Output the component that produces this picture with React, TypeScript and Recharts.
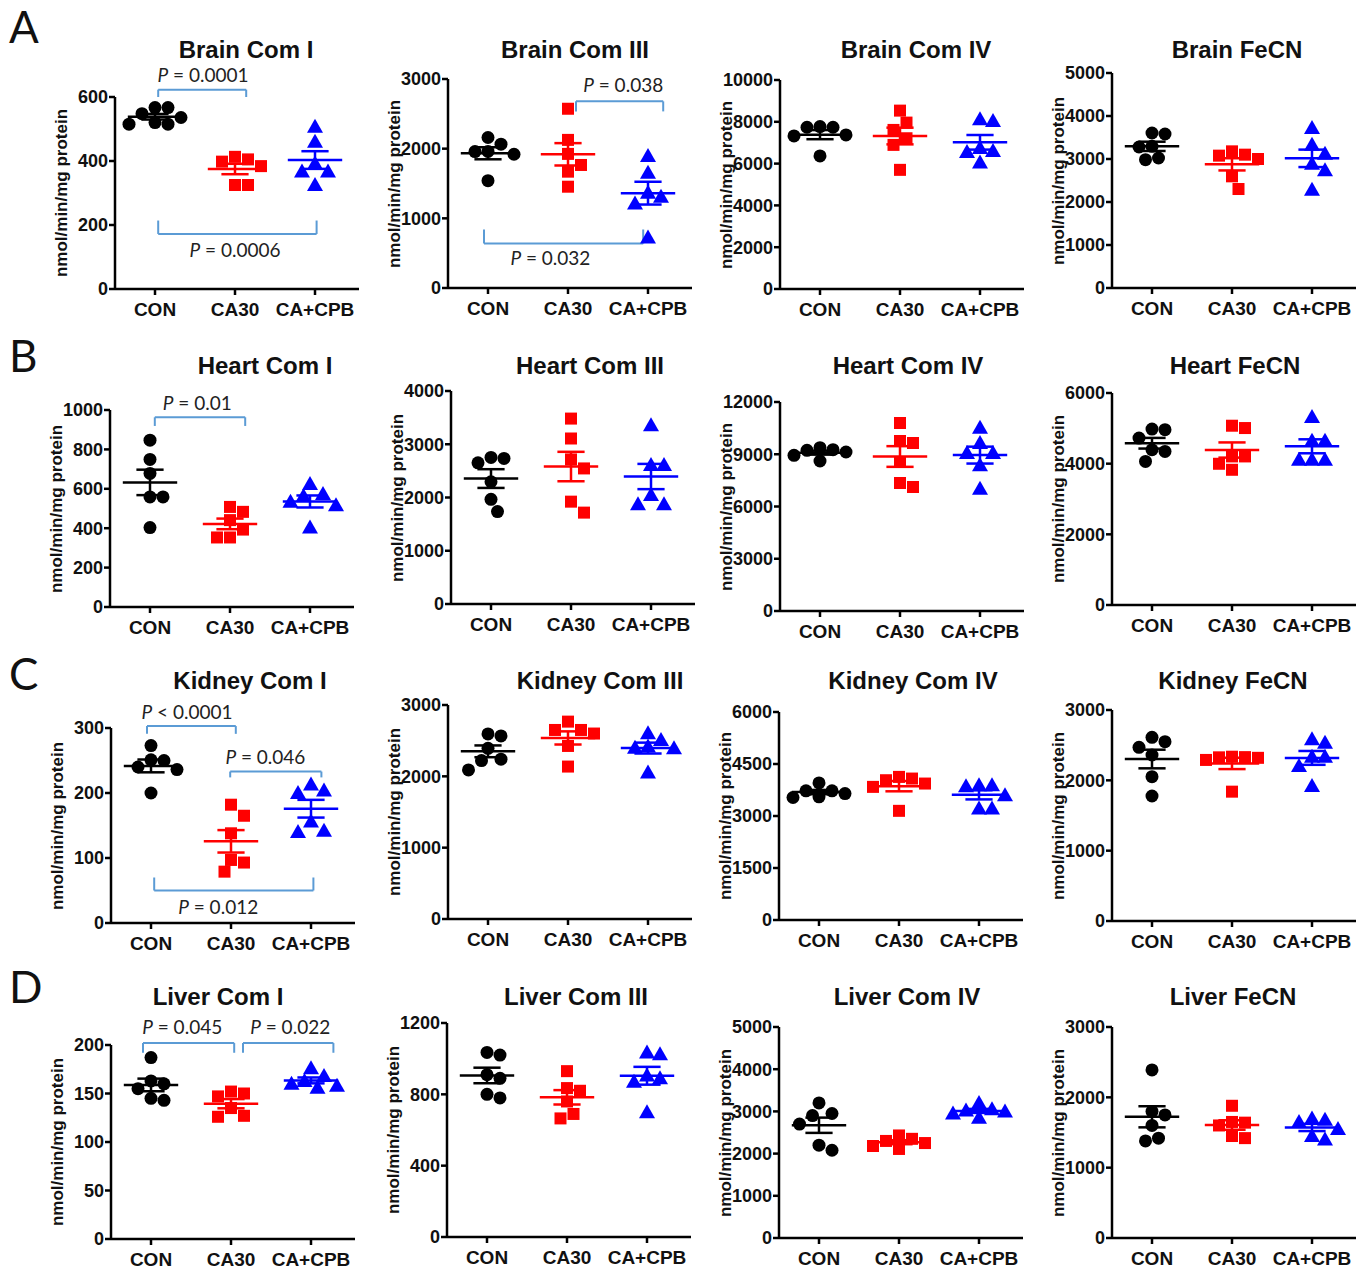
import React from "react";
import { ScatterChart, Scatter, XAxis, YAxis, ReferenceLine, ReferenceDot } from "recharts";

const groups = ["CON", "CA30", "CA+CPB"];
const groupColors = ["#000000", "#ff0000", "#0000ff"];

// values per group, in order CON, CA30, CA+CPB (nmol/min/mg protein)
const brainComI = [[548, 567, 515, 567, 515, 520, 536], [413, 398, 384, 405, 325, 325], [507, 460, 367, 392, 367, 325]];
const brainComIII = [[2064, 2160, 1958, 1960, 1920, 1541], [2573, 2126, 1925, 1766, 1670, 1454], [1896, 1656, 1310, 1368, 1214, 725]];
const brainComIV = [[7739, 7739, 7771, 7373, 7325, 6369], [8535, 7962, 7611, 7213, 6895, 5701], [8121, 8041, 6550, 6600, 6750, 6051]];
const brainFeCN = [[3605, 3581, 3295, 3279, 2984, 3023], [3178, 3078, 3000, 3101, 2597, 2302], [3721, 3333, 3124, 2891, 2736, 2287]];
const heartComI = [[847, 749, 678, 559, 559, 403], [483, 441, 508, 393, 353, 353], [624, 573, 563, 534, 517, 403]];
const heartComIII = [[2752, 2652, 2733, 2296, 1966, 1735], [3482, 3108, 2715, 2546, 1922, 1716], [3357, 2608, 2608, 2047, 1872, 1872]];
const heartComIV = [[9263, 9129, 8612, 8938, 9225, 9378], [10794, 9646, 9761, 8555, 7120, 7349], [10526, 9646, 9072, 9072, 8364, 7024]];
const heartFeCN = [[4961, 4980, 4725, 4394, 4347, 4063], [5074, 5008, 3997, 4205, 4205, 3827], [5320, 4650, 4650, 4110, 4110, 4110]];
const kidneyComI = [[273, 251, 250, 240, 236, 200], [182, 165, 138, 97, 93, 79], [204, 200, 213, 156, 140, 142]];
const kidneyComIII = [[2566, 2594, 2393, 2240, 2221, 2090], [2767, 2650, 2650, 2600, 2426, 2137], [2604, 2510, 2417, 2400, 2393, 2053]];
const kidneyComIV = [[3725, 3648, 3533, 3552, 3725, 3955], [4080, 4032, 3936, 4128, 3840, 3149], [3859, 3888, 3888, 3600, 3216, 3216]];
const kidneyFeCN = [[2611, 2550, 2469, 2360, 2052, 1777], [2327, 2330, 2320, 2336, 2290, 1839], [2536, 2583, 2336, 2336, 2204, 1919]];
const liverComI = [[187, 163, 160, 155, 145, 143], [152, 150, 147, 135, 127, 126], [176, 168, 163, 160, 158, 156]];
const liverComIII = [[1035, 1020, 910, 890, 800, 780], [930, 835, 820, 760, 690, 665], [1035, 1025, 905, 890, 870, 700]];
const liverComIV = [[3200, 2950, 2900, 2700, 2200, 2080], [2430, 2350, 2300, 2250, 2180, 2110], [3200, 3050, 3020, 3000, 2950, 2850]];
const liverFeCN = [[2390, 1800, 1750, 1600, 1420, 1380], [1880, 1650, 1640, 1600, 1450, 1420], [1700, 1680, 1650, 1550, 1450, 1400]];

// y-axis ticks
const brainComITicks = [0, 200, 400, 600];
const brainComIIITicks = [0, 1000, 2000, 3000];
const brainComIVTicks = [0, 2000, 4000, 6000, 8000, 10000];
const brainFeCNTicks = [0, 1000, 2000, 3000, 4000, 5000];
const heartComITicks = [0, 200, 400, 600, 800, 1000];
const heartComIIITicks = [0, 1000, 2000, 3000, 4000];
const heartComIVTicks = [0, 3000, 6000, 9000, 12000];
const heartFeCNTicks = [0, 2000, 4000, 6000];
const kidneyComITicks = [0, 100, 200, 300];
const kidneyComIIITicks = [0, 1000, 2000, 3000];
const kidneyComIVTicks = [0, 1500, 3000, 4500, 6000];
const kidneyFeCNTicks = [0, 1000, 2000, 3000];
const liverComITicks = [0, 50, 100, 150, 200];
const liverComIIITicks = [0, 400, 800, 1200];
const liverComIVTicks = [0, 1000, 2000, 3000, 4000, 5000];
const liverFeCNTicks = [0, 1000, 2000, 3000];

// p-values for the comparisons drawn
const brainComIP = ["= 0.0001", "= 0.0006"];
const brainComIIIP = ["= 0.038", "= 0.032"];
const heartComIP = ["= 0.01"];
const kidneyComIP = ["< 0.0001", "= 0.046", "= 0.012"];
const liverComIP = ["= 0.045", "= 0.022"];

const yLabel = "nmol/min/mg protein";

type Bracket = { from: number; to: number; level: number; leg: number; tx: number; ty: number };
type Panel = {
  title: string;
  values: number[][];
  ticks: number[];
  pValues?: string[];
  brackets?: Bracket[];
  axisX: number;
  plotTop: number;
  plotBottom: number;
  titleX: number;
  titleY: number;
};

const X_STEP = 80;
const PLOT_W = 244;
const TOP = 60;
const YW = 75;
const XH = 40;
const RIGHT = 15;
const BRACKET = "#5b9bd5";
const ARIAL = "'Liberation Sans', Arial, sans-serif";
const CALIBRI = "Lato, 'Open Sans', sans-serif";

const panels: Panel[] = [
  { title: "Brain Com I", values: brainComI, ticks: brainComITicks, pValues: brainComIP, axisX: 115, plotTop: 97, plotBottom: 289, titleX: 246, titleY: 50,
    brackets: [
      { from: 0.04, to: 1.14, level: 623, leg: 600, tx: 0.6, ty: 673 },
      { from: 0.04, to: 2.02, level: 172, leg: 214, tx: 1.0, ty: 125 },
    ] },
  { title: "Brain Com III", values: brainComIII, ticks: brainComIIITicks, pValues: brainComIIIP, axisX: 448, plotTop: 79, plotBottom: 288, titleX: 575, titleY: 50,
    brackets: [
      { from: 1.1, to: 2.19, level: 2679, leg: 2535, tx: 1.69, ty: 2933 },
      { from: -0.05, to: 1.94, level: 638, leg: 840, tx: 0.78, ty: 446 },
    ] },
  { title: "Brain Com IV", values: brainComIV, ticks: brainComIVTicks, axisX: 780, plotTop: 80, plotBottom: 289, titleX: 916, titleY: 50 },
  { title: "Brain FeCN", values: brainFeCN, ticks: brainFeCNTicks, axisX: 1112, plotTop: 73, plotBottom: 288, titleX: 1237, titleY: 50 },
  { title: "Heart Com I", values: heartComI, ticks: heartComITicks, pValues: heartComIP, axisX: 110, plotTop: 410, plotBottom: 607, titleX: 265, titleY: 366,
    brackets: [{ from: 0.06, to: 1.19, level: 963, leg: 919, tx: 0.59, ty: 1042 }] },
  { title: "Heart Com III", values: heartComIII, ticks: heartComIIITicks, axisX: 451, plotTop: 391, plotBottom: 604, titleX: 590, titleY: 366 },
  { title: "Heart Com IV", values: heartComIV, ticks: heartComIVTicks, axisX: 780, plotTop: 402, plotBottom: 611, titleX: 908, titleY: 366 },
  { title: "Heart FeCN", values: heartFeCN, ticks: heartFeCNTicks, axisX: 1112, plotTop: 393, plotBottom: 605, titleX: 1235, titleY: 366 },
  { title: "Kidney Com I", values: kidneyComI, ticks: kidneyComITicks, pValues: kidneyComIP, axisX: 111, plotTop: 728, plotBottom: 923, titleX: 250, titleY: 681,
    brackets: [
      { from: -0.05, to: 1.06, level: 303, leg: 291, tx: 0.45, ty: 326 },
      { from: 0.99, to: 2.13, level: 233, leg: 224, tx: 1.43, ty: 257 },
      { from: 0.04, to: 2.03, level: 50, leg: 70, tx: 0.84, ty: 26 },
    ] },
  { title: "Kidney Com III", values: kidneyComIII, ticks: kidneyComIIITicks, axisX: 448, plotTop: 705, plotBottom: 919, titleX: 600, titleY: 681 },
  { title: "Kidney Com IV", values: kidneyComIV, ticks: kidneyComIVTicks, axisX: 779, plotTop: 712, plotBottom: 920, titleX: 913, titleY: 681 },
  { title: "Kidney FeCN", values: kidneyFeCN, ticks: kidneyFeCNTicks, axisX: 1112, plotTop: 710, plotBottom: 921, titleX: 1233, titleY: 681 },
  { title: "Liver Com I", values: liverComI, ticks: liverComITicks, pValues: liverComIP, axisX: 111, plotTop: 1045, plotBottom: 1239, titleX: 218, titleY: 997,
    brackets: [
      { from: -0.1, to: 1.04, level: 202, leg: 192, tx: 0.39, ty: 220 },
      { from: 1.15, to: 2.28, level: 202, leg: 192, tx: 1.74, ty: 220 },
    ] },
  { title: "Liver Com III", values: liverComIII, ticks: liverComIIITicks, axisX: 447, plotTop: 1023, plotBottom: 1237, titleX: 576, titleY: 997 },
  { title: "Liver Com IV", values: liverComIV, ticks: liverComIVTicks, axisX: 779, plotTop: 1027, plotBottom: 1238, titleX: 907, titleY: 997 },
  { title: "Liver FeCN", values: liverFeCN, ticks: liverFeCNTicks, axisX: 1112, plotTop: 1027, plotBottom: 1238, titleX: 1233, titleY: 997 },
];

const rowLetters = [
  { letter: "A", top: 4 },
  { letter: "B", top: 333 },
  { letter: "C", top: 651 },
  { letter: "D", top: 964 },
];

// spread overlapping points sideways, like a column scatter plot
function swarm(values: number[], pxPerUnit: number, d: number): number[] {
  const order = values.map((_, i) => i).sort((a, b) => values[b] - values[a]);
  const placed: { x: number; y: number }[] = [];
  const offsets = new Array(values.length).fill(0);
  for (const i of order) {
    const y = values[i] * pxPerUnit;
    for (let k = 0; k < 30; k++) {
      const cand = k === 0 ? 0 : (k % 2 ? 1 : -1) * Math.ceil(k / 2) * (d / 2);
      if (placed.every((p) => Math.hypot(p.x - cand, p.y - y) >= d)) {
        offsets[i] = cand;
        placed.push({ x: cand, y });
        break;
      }
    }
  }
  return offsets;
}

function meanSem(vals: number[]) {
  const n = vals.length;
  const mean = vals.reduce((a, b) => a + b, 0) / n;
  const sd = Math.sqrt(vals.reduce((a, b) => a + (b - mean) ** 2, 0) / (n - 1));
  return { mean, sem: sd / Math.sqrt(n) };
}

function Marker(props: any) {
  const { cx, cy, g } = props;
  if (cx == null || cy == null) return null;
  const c = groupColors[g];
  if (g === 0) return <circle cx={cx} cy={cy} r={6.5} fill={c} />;
  if (g === 1) return <rect x={cx - 6} y={cy - 6} width={12} height={12} fill={c} />;
  return <polygon points={`${cx},${cy - 8} ${cx - 8},${cy + 6} ${cx + 8},${cy + 6}`} fill={c} />;
}

function PText(props: any) {
  const { cx, cy, text } = props;
  return (
    <text x={cx} y={cy} textAnchor="middle" dominantBaseline="central" fontFamily={CALIBRI} fontSize={19} fill="#222">
      <tspan fontStyle="italic">P</tspan>
      <tspan>{" " + text}</tspan>
    </text>
  );
}

function DotPanel({ p }: { p: Panel }) {
  const yMax = p.ticks[p.ticks.length - 1];
  const plotH = p.plotBottom - p.plotTop;
  const pxPerUnit = plotH / yMax;
  const series = p.values.map((vals, g) => {
    const offs = swarm(vals, pxPerUnit, 13);
    return vals.map((v, i) => ({ x: g + offs[i] / X_STEP, y: v }));
  });
  const stats = p.values.map(meanSem);
  const lineProps = { strokeWidth: 2.5, ifOverflow: "visible" as const };

  return (
    <>
      <div
        style={{
          position: "absolute", left: p.titleX, top: p.titleY, transform: "translate(-50%, -50%)",
          fontFamily: ARIAL, fontWeight: "bold", fontSize: 24, lineHeight: 1, whiteSpace: "nowrap", color: "#111",
        }}
      >
        {p.title}
      </div>
      <div
        style={{
          position: "absolute", left: p.axisX - 54, top: (p.plotTop + p.plotBottom) / 2,
          transform: "translate(-50%, -50%) rotate(-90deg)", fontFamily: ARIAL, fontWeight: "bold",
          fontSize: 17, lineHeight: 1, whiteSpace: "nowrap", color: "#111",
        }}
      >
        {yLabel}
      </div>
      <div style={{ position: "absolute", left: p.axisX - YW, top: p.plotTop - TOP }}>
        <ScatterChart width={YW + PLOT_W + RIGHT} height={TOP + plotH + XH} margin={{ top: TOP, right: RIGHT, bottom: 0, left: 0 }}>
          <XAxis
            type="number" dataKey="x" domain={[-0.5, 2.55]} ticks={[0, 1, 2]} allowDataOverflow interval={0}
            tickFormatter={(v) => groups[Math.round(Number(v))]} height={XH}
            axisLine={{ stroke: "#000", strokeWidth: 2.5 }} tickLine={{ stroke: "#000", strokeWidth: 2.5 }}
            tickSize={6} tickMargin={8}
            tick={{ fill: "#111", fontSize: 19, fontWeight: "bold", fontFamily: ARIAL }}
          />
          <YAxis
            type="number" dataKey="y" domain={[0, yMax]} ticks={p.ticks} allowDataOverflow interval={0} width={YW}
            axisLine={{ stroke: "#000", strokeWidth: 2.5 }} tickLine={{ stroke: "#000", strokeWidth: 2.5 }}
            tickSize={6} tickMargin={1}
            tick={{ fill: "#111", fontSize: 18, fontWeight: "bold", fontFamily: ARIAL }}
          />
          {series.map((pts, g) => (
            <Scatter key={groups[g]} data={pts} isAnimationActive={false} shape={(sp: any) => <Marker {...sp} g={g} />} />
          ))}
          {stats.map((s, g) => [
            <ReferenceLine key={`mean${g}`} segment={[{ x: g - 0.34, y: s.mean }, { x: g + 0.34, y: s.mean }]} stroke={groupColors[g]} {...lineProps} />,
            <ReferenceLine key={`hi${g}`} segment={[{ x: g - 0.17, y: s.mean + s.sem }, { x: g + 0.17, y: s.mean + s.sem }]} stroke={groupColors[g]} {...lineProps} />,
            <ReferenceLine key={`lo${g}`} segment={[{ x: g - 0.17, y: s.mean - s.sem }, { x: g + 0.17, y: s.mean - s.sem }]} stroke={groupColors[g]} {...lineProps} />,
            <ReferenceLine key={`v${g}`} segment={[{ x: g, y: s.mean - s.sem }, { x: g, y: s.mean + s.sem }]} stroke={groupColors[g]} {...lineProps} />,
          ])}
          {(p.brackets || []).map((b, i) => [
            <ReferenceLine key={`bh${i}`} segment={[{ x: b.from, y: b.level }, { x: b.to, y: b.level }]} stroke={BRACKET} strokeWidth={2} ifOverflow="visible" />,
            <ReferenceLine key={`bl${i}`} segment={[{ x: b.from, y: b.level }, { x: b.from, y: b.leg }]} stroke={BRACKET} strokeWidth={2} ifOverflow="visible" />,
            <ReferenceLine key={`br${i}`} segment={[{ x: b.to, y: b.level }, { x: b.to, y: b.leg }]} stroke={BRACKET} strokeWidth={2} ifOverflow="visible" />,
            <ReferenceDot key={`bt${i}`} x={b.tx} y={b.ty} r={0} ifOverflow="visible" shape={(dp: any) => <PText {...dp} text={(p.pValues || [])[i]} />} />,
          ])}
        </ScatterChart>
      </div>
    </>
  );
}

export default function App() {
  return (
    <div style={{ position: "absolute", left: 0, top: 0, width: 1368, height: 1273, background: "#fff" }}>
      {rowLetters.map((r) => (
        <div
          key={r.letter}
          style={{ position: "absolute", left: 9, top: r.top, fontFamily: CALIBRI, fontSize: 44, lineHeight: "44px", color: "#111" }}
        >
          {r.letter}
        </div>
      ))}
      {panels.map((p) => (
        <DotPanel key={p.title} p={p} />
      ))}
    </div>
  );
}
